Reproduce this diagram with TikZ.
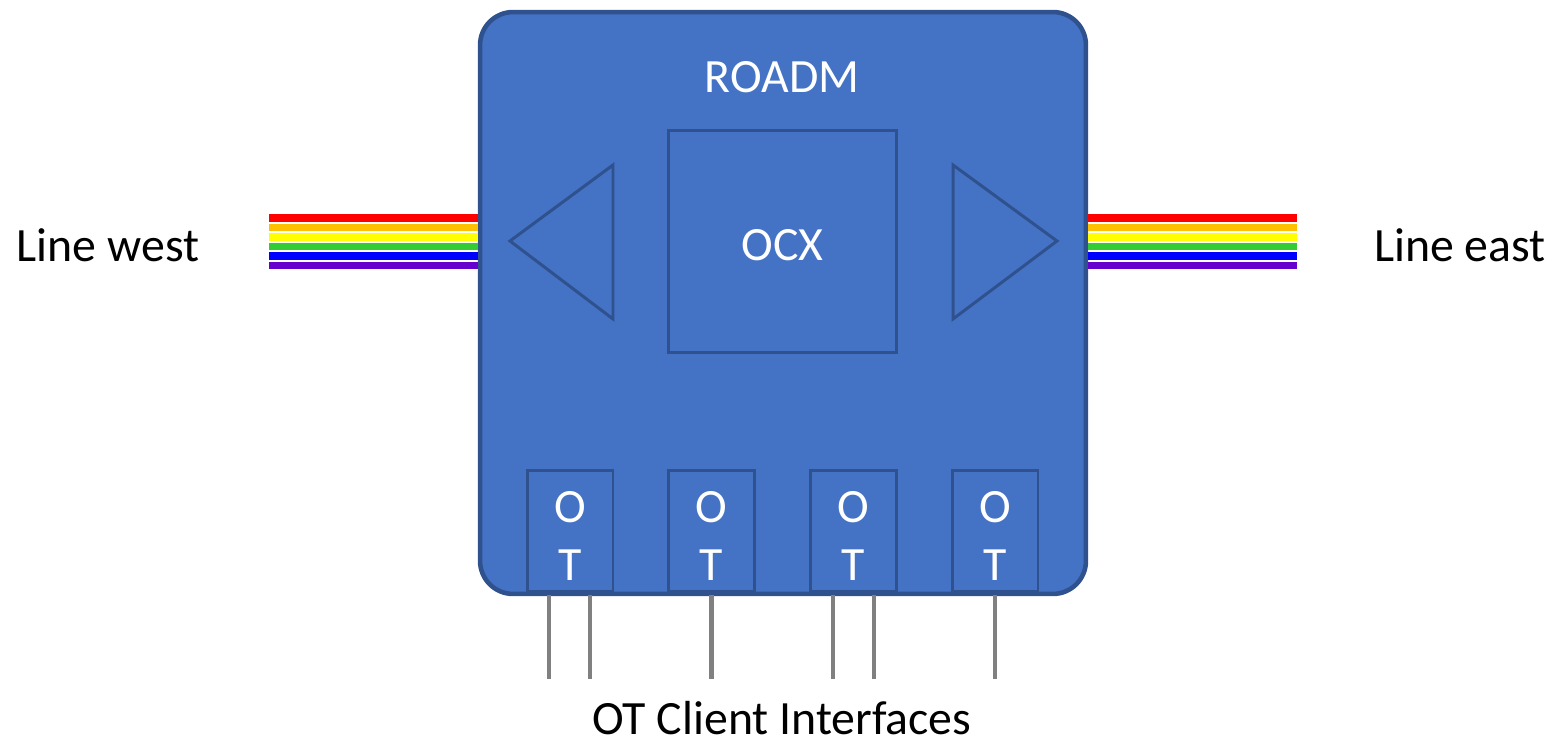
\documentclass[tikz,border=0pt]{standalone}
\usepackage{fontspec}
\setmainfont{Carlito}
\usepackage{tikz}
\usetikzlibrary{positioning,calc}
\definecolor{boxfill}{HTML}{4472C4}
\definecolor{boxline}{HTML}{2F528F}
\definecolor{wirecol}{HTML}{808080}
\definecolor{rbred}{HTML}{FF0000}
\definecolor{rborange}{HTML}{FFC000}
\definecolor{rbyellow}{HTML}{FFFF00}
\definecolor{rbgreen}{HTML}{33CC33}
\definecolor{rbblue}{HTML}{0000FF}
\definecolor{rbpurple}{HTML}{6600CC}

\begin{document}
\begin{tikzpicture}[x=0.02cm, y=-0.02cm,
  font=\fontsize{27.2}{33}\selectfont,
  roadmbox/.style={draw=boxline, fill=boxfill, line width=2.6pt,
    rounded corners=0.66cm, inner sep=0pt},
  part/.style={draw=boxline, line width=1.7pt, inner sep=0pt},
  otbox/.style={part, minimum width=1.72cm, minimum height=2.44cm},
  ottext/.style={text=white, align=center, inner sep=0pt},
  band/.style={line width=4.2pt},
  client/.style={draw=wirecol, line width=2.3pt}]

\useasboundingbox (0,0) rectangle (1553,739);

% ------------------------------------------------------------ the ROADM
\node[roadmbox, minimum width=12.12cm, minimum height=11.64cm] (roadm) at (783,303) {};
\node[text=white] (title) at (782,77) {ROADM};
\node[part, minimum width=4.58cm, minimum height=4.46cm] (ocx) at (782.5,241.5) {};
\node[text=white] (ocxlabel) at (782.5,245) {OCX};

% west and east amplifiers
\draw[part] (510,241) -- (613,165) -- (613,319) -- cycle;
\draw[part] (953,165) -- (1057,241) -- (953,319) -- cycle;

% ------------------------------------------------------- the line fibres
\foreach \c [count=\i] in {rbred,rborange,rbyellow,rbgreen,rbblue,rbpurple} {
  \coordinate (w\i) at (269,{218+9.46*(\i-1)});
  \coordinate (e\i) at (1297,{218+9.46*(\i-1)});
  \draw[band, \c] (w\i) -- (w\i -| roadm.west);
  \draw[band, \c] (e\i -| roadm.east) -- (e\i);
}
\node (west) at (108,245) {Line west};
\node (east) at (1460,245) {Line east};

% -------------------------------------------------------- transponders
\foreach \x [count=\i] in {570,711.5,853.5,995} {
  \node[otbox] (ot\i) at (\x,531) {};
  \node[ottext] (otl\i) at ($(ot\i)+(0,5)$) {O\\T};
}

% client interfaces
\foreach \n/\dx [count=\k] in {1/-21,1/20,2/0,3/-20.5,3/20.5,4/0} {
  \coordinate (cl\k) at ($(ot\n.south)+(\dx,86)$);
  \draw[client] ($(ot\n.south)+(\dx,2)$) -- (cl\k);
}
\node[inner sep=0pt] (clients) at (782,718) {OT Client Interfaces};

\end{tikzpicture}
\end{document}
